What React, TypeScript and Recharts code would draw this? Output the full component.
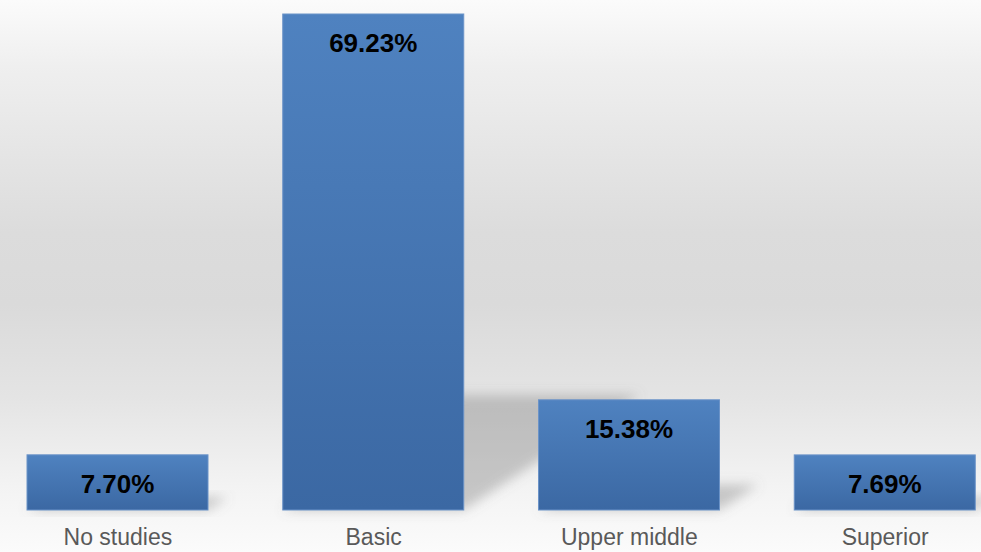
import { Bar, BarChart, LabelList, XAxis, YAxis } from "recharts"

// education level distribution
const categories = ["No studies", "Basic", "Upper middle", "Superior"]
const shares = [7.7, 69.23, 15.38, 7.69]

const data = categories.map((name, i) => ({ name, value: shares[i] }))

const FONT = "'Liberation Sans', Arial, sans-serif"

// bar with a blurred floor shadow cast to the back-right
function ShadowBar(props: any) {
  const { x, y, width, height } = props
  const base = y + height
  const dx = height * 0.355
  const dy = height * 0.232
  const pts = [
    [x, base],
    [x + width, base],
    [x + width + dx, base - dy],
    [x + dx, base - dy],
  ]
    .map((p) => p.join(","))
    .join(" ")
  return (
    <g>
      <polygon points={pts} fill="#7a7a7a" fillOpacity={0.38} filter="url(#shadowBlur)" />
      <rect x={x} y={y} width={width} height={height} fill="url(#barFill)" stroke="#6b93c8" strokeWidth={1} />
    </g>
  )
}

function ValueLabel(props: any) {
  const { x, y, width, value } = props
  return (
    <text
      x={x + width / 2}
      y={y + 38}
      textAnchor="middle"
      fontFamily={FONT}
      fontWeight="bold"
      fontSize={26}
      fill="#000"
    >
      {Number(value).toFixed(2)}%
    </text>
  )
}

export default function App() {
  return (
    <div
      style={{
        position: "absolute",
        left: 0,
        top: 0,
        width: 981,
        height: 552,
        overflow: "hidden",
        background:
          "linear-gradient(to bottom, #fbfbfb 0%, #efefef 12%, #dcdcdc 42%, #dadada 55%, #e4e4e4 72%, #f3f3f3 88%, #fbfbfb 100%)",
      }}
    >
      <div style={{ position: "absolute", left: -10, top: 0 }}>
        <BarChart width={1023} height={552} data={data} margin={{ top: 14, right: 0, bottom: 0, left: 0 }} barSize={181}>
          <defs>
            <linearGradient id="barFill" x1="0" y1="0" x2="0" y2="1">
              <stop offset="0%" stopColor="#4f82c0" />
              <stop offset="100%" stopColor="#3b68a3" />
            </linearGradient>
            <filter id="shadowBlur" x="-50%" y="-50%" width="200%" height="200%">
              <feGaussianBlur stdDeviation="6" />
            </filter>
          </defs>
          <XAxis
            dataKey="name"
            axisLine={false}
            tickLine={false}
            tickSize={0}
            tickMargin={19}
            height={42}
            interval={0}
            tick={{ fill: "#595959", fontSize: 23, fontFamily: FONT }}
          />
          <YAxis hide domain={[0, 69.23]} />
          <Bar dataKey="value" shape={<ShadowBar />} isAnimationActive={false}>
            <LabelList dataKey="value" content={<ValueLabel />} />
          </Bar>
        </BarChart>
      </div>
    </div>
  )
}
